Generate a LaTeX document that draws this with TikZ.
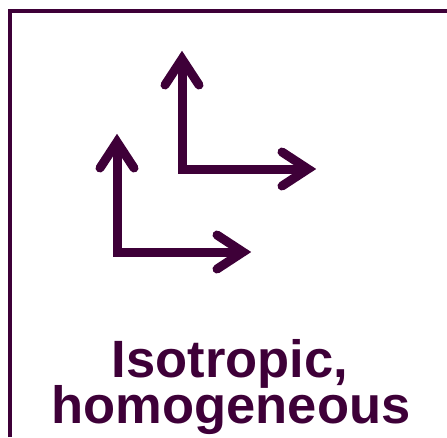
\documentclass[tikz,border=0pt]{standalone}
\usepackage{fontspec}
\setmainfont{Liberation Sans}
\definecolor{ink}{RGB}{62,0,56}
\tikzset{
  frameline/.style={draw=ink, line width=4pt, line join=miter},
  shaft/.style={draw=ink, line width=9pt, line join=miter},
  barb/.style={draw=ink, line width=9pt, line cap=round, line join=miter},
  label/.style={text=ink, font=\bfseries\fontsize{52.5}{46}\selectfont, inner sep=0pt, anchor=base}
}
\newcommand{\axespair}[2]{%
  \coordinate (c#1) at (#2);
  \coordinate (u#1) at ($(c#1)+(0,-110)$);
  \coordinate (r#1) at ($(c#1)+(126,0)$);
  \draw[shaft] (u#1) -- (c#1) -- (r#1);
  \draw[barb] ($(u#1)+(-17,26)$) -- (u#1) -- ($(u#1)+(17,26)$);
  \draw[barb] ($(r#1)+(-26,-17)$) -- (r#1) -- ($(r#1)+(-26,17)$);
}
\usetikzlibrary{calc}
\begin{document}
\begin{tikzpicture}[x=1pt,y=-1pt]
\useasboundingbox (0,0) rectangle (447,437);
\coordinate (fb) at (10,437);
\coordinate (fc) at (10,10.5);
\coordinate (fr) at (447,10.5);
\draw[frameline] (fb) -- (fc) -- (fr);
\axespair{a}{182,169}
\axespair{b}{117,252}
\node[label] (l1) at (230,377) {Isotropic,};
\node[label] (l2) at (231,423) {homogeneous};
\end{tikzpicture}
\end{document}
